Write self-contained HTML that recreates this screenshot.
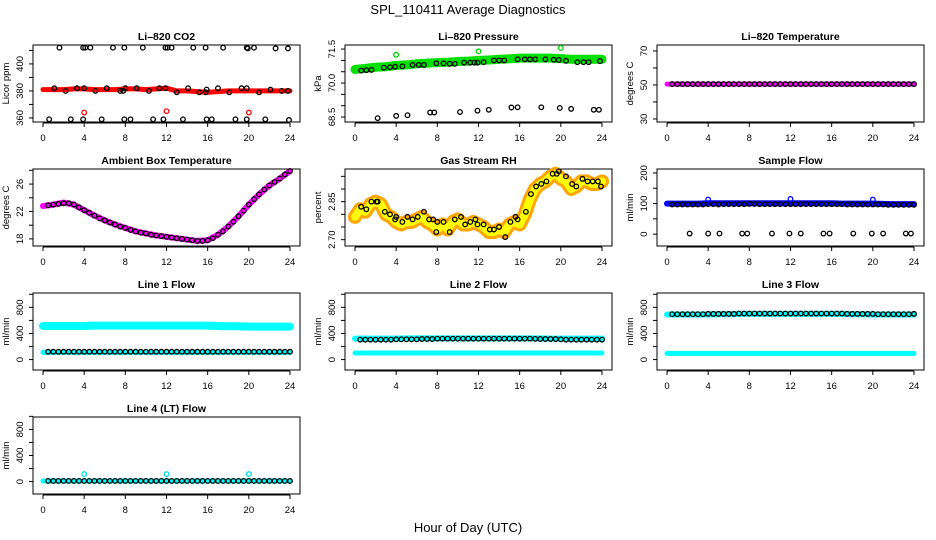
<!DOCTYPE html>
<html><head><meta charset="utf-8"><style>
html,body{margin:0;padding:0;background:#fff;}
svg{display:block;font-family:"Liberation Sans",Arial,sans-serif;}
</style></head><body>
<svg id="chart" width="936" height="540" viewBox="0 0 936 540" xmlns="http://www.w3.org/2000/svg">
<rect width="936" height="540" fill="#fff"/>
<text x="468" y="14" text-anchor="middle" font-size="13">SPL_110411  Average Diagnostics</text>
<text x="468" y="532" text-anchor="middle" font-size="13">Hour of Day (UTC)</text>
</svg>
<script>
// ---- data ----
const xTicks = [0,4,8,12,16,20,24];
const hoursHourly = [0,1,2,3,4,5,6,7,8,9,10,11,12,13,14,15,16,17,18,19,20,21,22,23,24];
const hoursHalf = [0.5,1,1.5,2,2.5,3,3.5,4,4.5,5,5.5,6,6.5,7,7.5,8,8.5,9,9.5,10,10.5,11,11.5,12,12.5,13,13.5,14,14.5,15,15.5,16,16.5,17,17.5,18,18.5,19,19.5,20,20.5,21,21.5,22,22.5,23,23.5,24];

// CO2
const co2Band = [381,381,381,381.5,381.5,381,381,381,381.5,381.5,381,381.5,382,380,380,379.5,379,379.5,380,380,380,380,380,380,380];
const co2TopHours = [1.6,3.9,4.1,4.6,6.8,7.9,9.7,11.9,12.1,12.5,14.6,15.8,17.5,19.8,19.9,20.5,22.6,23.8];
const co2TopVals = [412,412,412,412,412,412,412,412,412,412,412,412,412,412,411.5,412,411.5,411.5];
const co2MidHours = [1.1,2.2,3.3,4.0,5.1,6.2,7.5,7.8,8.0,9.1,10.3,11.3,11.9,13.0,14.1,15.2,15.8,15.9,17.0,18.1,19.3,19.8,21.0,22.1,23.2,23.8];
const co2MidVals = [382,380,382,382,380,382,380,380,382,382,380,382,382,379,382,379,379,381,382,379,382,382,379,381,380,380];
const co2LowHours = [0.6,2.7,3.9,5.7,7.9,8.5,10.7,11.7,13.6,15.9,16.4,18.7,19.8,21.6,23.9];
const co2LowVals = [359,359,359,359,359,359,359,359,359,359,359,359,359,359,358.5];
const co2RedHours = [4,12,20];
const co2RedVals = [364,365,364];

// Pressure
const presBand = [70.6,70.65,70.7,70.72,70.78,70.8,70.85,70.88,70.9,70.92,70.95,70.97,71.0,71.02,71.05,71.07,71.1,71.1,71.1,71.1,71.08,71.05,71.05,71.05,71.05];
const presUpHours = [0.6,1.1,1.6,2.8,3.4,3.9,4.6,5.6,6.2,6.7,7.9,8.6,9.2,9.7,10.6,11.2,11.6,11.9,12.5,13.5,14.0,14.5,15.8,16.5,17.0,17.5,18.5,19.3,19.8,20.5,21.6,22.2,22.7,23.8];
const presUpVals = [70.55,70.57,70.58,70.68,70.7,70.72,70.74,70.8,70.8,70.8,70.87,70.87,70.85,70.85,70.9,70.9,70.9,70.9,70.92,71.0,71.0,71.0,71.05,71.05,71.05,71.05,71.05,71.03,71.02,70.98,70.92,70.92,70.92,70.97];
const presLowHours = [2.2,4.0,5.1,7.3,7.7,10.2,11.9,13.0,15.2,15.8,18.1,19.9,21.0,23.2,23.7];
const presLowVals = [68.45,68.55,68.58,68.7,68.7,68.72,68.78,68.82,68.92,68.93,68.93,68.9,68.86,68.82,68.82];
const presGreenHours = [4,12,20];
const presGreenVals = [71.25,71.4,71.55];

// Li-820 temperature
const liTempBand = [50.5,50.5,50.5,50.5,50.5,50.5,50.5,50.5,50.5,50.5,50.5,50.5,50.5,50.5,50.5,50.5,50.5,50.5,50.5,50.5,50.5,50.5,50.5,50.5,50.5];
const liTempChain = [50.5,50.5,50.5,50.5,50.5,50.5,50.5,50.5,50.5,50.5,50.5,50.5,50.5,50.5,50.5,50.5,50.5,50.5,50.5,50.5,50.5,50.5,50.5,50.5,50.5,50.5,50.5,50.5,50.5,50.5,50.5,50.5,50.5,50.5,50.5,50.5,50.5,50.5,50.5,50.5,50.5,50.5,50.5,50.5,50.5,50.5,50.5,50.5];

// Ambient box temperature
const ambBand = [22.8,23.0,23.3,23.0,22.2,21.4,20.7,20.1,19.6,19.1,18.8,18.5,18.3,18.1,17.9,17.7,17.8,18.6,19.8,21.3,23.0,24.5,25.8,26.8,27.9];
const ambChain = [22.9,23.0,23.1,23.2,23.2,23.0,22.6,22.2,21.8,21.4,21.0,20.7,20.4,20.1,19.8,19.6,19.3,19.1,18.9,18.8,18.6,18.5,18.4,18.3,18.2,18.1,18.0,17.9,17.8,17.7,17.7,17.8,18.1,18.6,19.1,19.8,20.5,21.3,22.1,23.0,23.8,24.5,25.2,25.8,26.3,26.8,27.4,27.9];

// Gas stream RH
const rhBand = [2.79,2.82,2.81,2.84,2.85,2.84,2.80,2.79,2.77,2.76,2.77,2.77,2.78,2.79,2.77,2.76,2.74,2.76,2.74,2.77,2.78,2.76,2.76,2.77,2.76,2.75,2.73,2.73,2.74,2.73,2.76,2.77,2.76,2.80,2.86,2.90,2.92,2.93,2.95,2.96,2.94,2.93,2.90,2.91,2.93,2.93,2.92,2.92,2.93];
const rhBandHours = [0,0.5,1,1.5,2,2.5,3,3.5,4,4.5,5,5.5,6,6.5,7,7.5,8,8.5,9,9.5,10,10.5,11,11.5,12,12.5,13,13.5,14,14.5,15,15.5,16,16.5,17,17.5,18,18.5,19,19.5,20,20.5,21,21.5,22,22.5,23,23.5,24];
const rhPtHours = [0.6,1.1,1.6,2.1,2.2,2.9,3.4,3.9,4.0,4.6,5.1,5.6,6.1,6.7,7.2,7.6,7.9,8.0,8.6,9.2,9.7,10.3,10.7,11.2,11.7,11.9,12.5,13.1,13.5,14.0,14.6,15.1,15.6,15.8,16.6,17.1,17.6,18.1,18.6,19.2,19.6,19.8,20.5,21.1,21.5,22.1,22.6,23.1,23.6,23.9];
const rhPtVals = [2.83,2.82,2.85,2.85,2.85,2.81,2.80,2.78,2.79,2.77,2.79,2.78,2.79,2.81,2.78,2.78,2.73,2.77,2.77,2.73,2.78,2.79,2.76,2.77,2.78,2.76,2.76,2.74,2.74,2.75,2.71,2.77,2.79,2.78,2.81,2.88,2.91,2.92,2.93,2.96,2.96,2.97,2.95,2.92,2.91,2.94,2.93,2.93,2.93,2.91];

// Sample flow
const sfBand = [100,100,100,100,101,101,101,101,101,101,101,101,101,101,101,101,101,100,100,100,100,99,98,98,98];
const sfChain = [97,97,97,97,97,97,97,98,98,97,98,98,98,98,98,99,99,98,98,98,98,98,98,98,98,98,98,98,98,98,98,98,98,98,97,97,97,97,97,97,97,97,96,96,96,96,96,96];
const sfZeroHours = [2.2,4.0,5.1,7.3,7.8,10.2,11.9,13.0,15.2,15.8,18.1,19.9,21.0,23.2,23.7];
const sfZeroVals = [2,2,2,2,2,2,2,2,2,2,2,2,2,2,2];
const sfBlueHours = [4,12,20];
const sfBlueVals = [113,115,113];

// Line flows
const l1High = [515,515,515,515,515,520,520,520,520,520,520,520,520,520,520,520,520,515,510,510,505,505,505,505,505];
const l1Low = [110,110,110,110,110,110,110,110,110,110,110,110,110,110,110,110,110,110,110,110,110,110,110,110,110];
const l1Chain = [120,120,120,120,120,120,120,120,120,120,120,120,120,120,120,120,120,120,120,120,120,120,120,120,120,120,120,120,120,120,120,120,120,120,120,120,120,120,120,120,120,120,120,120,120,120,120,120];
const l2High = [320,320,320,320,320,325,325,325,325,325,325,325,325,325,325,325,325,325,325,320,320,320,320,320,320];
const l2Low = [100,100,100,100,100,100,100,100,100,100,100,100,100,100,100,100,100,100,100,100,100,100,100,100,100];
const l2Chain = [305,305,305,305,305,305,305,310,310,310,310,310,315,315,315,320,320,320,320,320,320,320,320,320,320,320,320,320,320,320,320,320,320,320,318,315,315,315,315,310,305,305,305,305,305,305,305,305];
const l3High = [690,690,690,690,690,695,695,700,700,700,700,700,700,700,700,700,700,700,695,695,690,690,690,690,690];
const l3Low = [95,95,95,95,95,95,95,95,95,95,95,95,95,95,95,95,95,95,95,95,95,95,95,95,95];
const l3Chain = [695,695,695,695,695,695,695,700,700,700,700,700,700,705,705,705,705,705,705,705,705,705,705,705,705,705,705,705,705,705,705,705,705,705,700,700,700,700,700,700,695,695,695,695,695,695,695,700];
const l4Band = [10,10,10,10,10,10,10,10,10,10,10,10,10,10,10,10,10,10,10,10,10,10,10,10,10];
const l4Chain = [10,10,10,10,10,10,10,10,10,10,10,10,10,10,10,10,10,10,10,10,10,10,10,10,10,10,10,10,10,10,10,10,10,10,10,10,10,10,10,10,10,10,10,10,10,10,10,10];
const l4CyanHours = [4,12,20];
const l4CyanVals = [115,115,115];

// ---- drawing ----
const svg = document.getElementById('chart');
const NS = 'http://www.w3.org/2000/svg';
function mk(tag, attrs, parent){ const e=document.createElementNS(NS,tag); for(const k in attrs) e.setAttribute(k,attrs[k]); (parent||svg).appendChild(e); return e; }

function panel(name,c,r,ymin,ymax,ticks,labels,title,ylab){
  const L=33+312*c, W=267, T=45+124*r, H=77;
  const g=mk('g',{});
  
  
  const sx=h=>L+10+h*(247/24);
  const sy=v=>T+H-(v-ymin)/(ymax-ymin)*H;
  const t=mk('text',{x:L+W/2,y:T-5,'text-anchor':'middle','font-size':10.5,'font-weight':'bold'},g);
  t.textContent=title;
  
  
  const yl=mk('text',{x:0,y:0,'text-anchor':'middle','font-size':9.5,transform:`translate(${L-24},${T+H/2}) rotate(-90)`},g);
  yl.textContent=ylab;
  
  
  mk('line',{x1:L,x2:L,y1:sy(ticks[0]),y2:sy(ticks[ticks.length-1]),stroke:'#000','stroke-width':1},g);
  ticks.forEach(v=>{ mk('line',{x1:L-4,x2:L,y1:sy(v),y2:sy(v),stroke:'#000','stroke-width':1},g); });
  labels.forEach(v=>{
    const tl=mk('text',{x:0,y:0,'text-anchor':'middle','font-size':9.5,transform:`translate(${L-10},${sy(v)}) rotate(-90)`},g);
    tl.textContent=String(v);
    
    
  });
  mk('line',{x1:sx(0),x2:sx(24),y1:T+H+1,y2:T+H+1,stroke:'#000','stroke-width':1},g);
  xTicks.forEach(h=>{
    mk('line',{x1:sx(h),x2:sx(h),y1:T+H+1,y2:T+H+5,stroke:'#000','stroke-width':1},g);
    const tx=mk('text',{x:sx(h),y:T+H+19,'text-anchor':'middle','font-size':9.5},g);
    tx.textContent=String(h);
    
    
  });
  const box=mk('rect',{x:L,y:T,width:W,height:H,fill:'none',stroke:'#000','stroke-width':1},g);
  
  
  const plot=mk('g',{},g);
  return {sx,sy,g:plot};
}
function band(p,hs,vs,color,w,name,dash){
  const pts=hs.map((h,i)=>p.sx(h)+','+p.sy(vs[i])).join(' ');
  const pl=mk('polyline',{points:pts,fill:'none',stroke:color,'stroke-width':w,'stroke-linecap':'round','stroke-linejoin':'round'},p.g);
  if(dash) pl.setAttribute('stroke-dasharray',dash);
  
  
}
function pts(p,hs,vs,color,name){
  hs.forEach((h,i)=>{
    const c=mk('circle',{cx:p.sx(h),cy:p.sy(vs[i]),r:2.3,fill:'none',stroke:color,'stroke-width':1.3},p.g);
    
    
  });
}

let p;
p=panel('co2',0,0,357,414,[360,370,380,390,400,410],[360,380,400],'Li\u2013820 CO2','Licor ppm');
band(p,hoursHourly,co2Band,'#ff0000',5,'co2-band');
pts(p,co2TopHours,co2TopVals,'#000','co2-point');
pts(p,co2MidHours,co2MidVals,'#000','co2-point');
pts(p,co2LowHours,co2LowVals,'#000','co2-point');
pts(p,co2RedHours,co2RedVals,'#ff0000','co2-red-point');

p=panel('pressure',1,0,68.28,71.68,[68.5,69,69.5,70,70.5,71,71.5],['68.5','70.0','71.5'],'Li\u2013820 Pressure','kPa');
band(p,hoursHourly,presBand,'#00e000',9,'pressure-band');
pts(p,presUpHours,presUpVals,'#000','pressure-point');
pts(p,presLowHours,presLowVals,'#000','pressure-point');
pts(p,presGreenHours,presGreenVals,'#00d000','pressure-green-point');

p=panel('li-temperature',2,0,28.2,73.5,[30,40,50,60,70],[30,50,70],'Li\u2013820 Temperature','degrees C');
band(p,hoursHourly,liTempBand,'#ff00ff',5,'li-temperature-band');
pts(p,hoursHalf,liTempChain,'#000','li-temperature-point');

p=panel('ambient-temperature',0,1,16.96,28.2,[18,20,22,24,26,28],[18,22,26],'Ambient Box Temperature','degrees C');
band(p,hoursHourly,ambBand,'#ff00ff',6,'ambient-band');
pts(p,hoursHalf,ambChain,'#000','ambient-point');

p=panel('gas-rh',1,1,2.675,2.979,[2.70,2.75,2.80,2.85,2.90,2.95],['2.70','2.85'],'Gas Stream RH','percent');
band(p,rhBandHours,rhBand,'#ffa500',14,'rh-band');
band(p,rhBandHours,rhBand,'#ffff00',8,'rh-band-texture','1.5 2');
pts(p,rhPtHours,rhPtVals,'#000','rh-point');

p=panel('sample-flow',2,1,-38.7,213,[0,50,100,150,200],[0,100,200],'Sample Flow','ml/min');
band(p,hoursHourly,sfBand,'#0000ff',6,'sample-flow-band');
pts(p,hoursHalf,sfChain,'#000','sample-flow-point');
pts(p,sfZeroHours,sfZeroVals,'#000','sample-flow-point');
pts(p,sfBlueHours,sfBlueVals,'#0000ff','sample-flow-blue-point');

const fTicks=[0,200,400,600,800,1000], fLabels=[0,400,800];
p=panel('line1-flow',0,2,-160,1020,fTicks,fLabels,'Line 1 Flow','ml/min');
band(p,hoursHourly,l1High,'#00ffff',8,'line1-high-band');
band(p,hoursHourly,l1Low,'#00ffff',5,'line1-low-band');
pts(p,hoursHalf,l1Chain,'#000','line1-point');

p=panel('line2-flow',1,2,-160,1020,fTicks,fLabels,'Line 2 Flow','ml/min');
band(p,hoursHourly,l2High,'#00ffff',6,'line2-high-band');
band(p,hoursHourly,l2Low,'#00ffff',5,'line2-low-band');
pts(p,hoursHalf,l2Chain,'#000','line2-point');

p=panel('line3-flow',2,2,-160,1020,fTicks,fLabels,'Line 3 Flow','ml/min');
band(p,hoursHourly,l3High,'#00ffff',6,'line3-high-band');
band(p,hoursHourly,l3Low,'#00ffff',5,'line3-low-band');
pts(p,hoursHalf,l3Chain,'#000','line3-point');

p=panel('line4-flow',0,3,-190,990,fTicks,fLabels,'Line 4 (LT) Flow','ml/min');
band(p,hoursHourly,l4Band,'#00ffff',5,'line4-band');
pts(p,hoursHalf,l4Chain,'#000','line4-point');
pts(p,l4CyanHours,l4CyanVals,'#00e0e0','line4-cyan-point');
</script>
</body></html>
